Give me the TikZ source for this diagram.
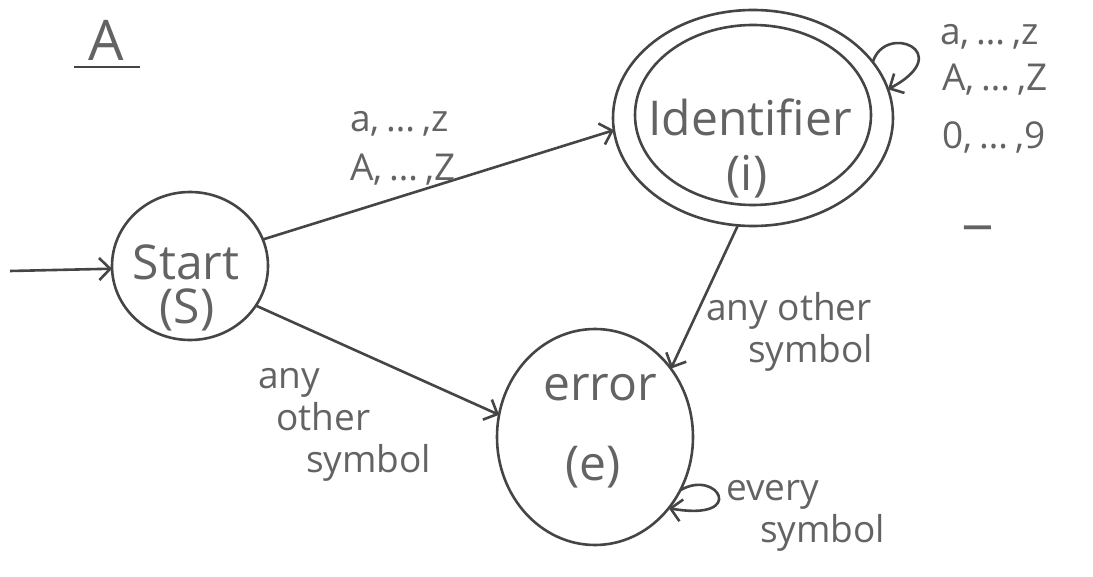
\documentclass[tikz,border=0pt]{standalone}
\usepackage{fontspec}
\setmainfont{Open Sans}
\usetikzlibrary{shapes.geometric,arrows.meta}
\definecolor{ink}{HTML}{454545}
\definecolor{pen}{HTML}{636363}
\newcommand{\ddd}{\hspace{7pt}\ldots\hspace{7pt}}
\begin{document}
\begin{tikzpicture}[x=1pt,y=-1pt,
  state/.style={ellipse,draw=ink,line width=2.6pt,inner sep=0pt,outer sep=0pt},
  txt/.style={text=pen,font=\fontsize{48}{54}\selectfont,inner sep=0pt},
  lab/.style={text=pen,font=\fontsize{37}{42}\selectfont,inner sep=0pt,align=left},
  arr/.style={draw=ink,line width=2.6pt,-{Straight Barb[length=11pt,width=22pt]}},
  plain/.style={draw=ink,line width=2.8pt}]
\useasboundingbox (0,0) rectangle (1093,577);

% title
\node[text=pen,font=\fontsize{56}{60}\selectfont,inner sep=0pt] (ttl) at (106,40) {A};
\coordinate (ulA) at (74,67);
\coordinate (ulB) at (140,67);
\draw[plain] (ulA) -- (ulB);

% states
\node[state,minimum width=156pt,minimum height=148pt] (st) at (190,266) {};
\node[state,minimum width=280pt,minimum height=216pt] (id) at (753,118) {};
\node[state,minimum width=236pt,minimum height=180pt] (idin) at (753,115) {};
\node[state,minimum width=196pt,minimum height=216pt] (er) at (595,437) {};

% state texts
\node[txt] (stT) at (186,262) {Start};
\node[txt] (stS) at (187,310) {(S)};
\node[txt] (idT) at (750,117) {Identifier};
\node[txt] (idS) at (747,177) {(i)};
\node[txt] (erT) at (600,388) {error};
\node[txt] (erS) at (593,467) {(e)};

% initial arrow
\coordinate (init) at (10,271);
\draw[arr] (init) -- (st.182);

% transitions
\draw[arr] (st.20) -- (id.185);
\draw[arr] (st.-31) -- (er.167);
\draw[arr] (id.262) -- (er.42);
\draw[arr] (id.25) .. controls (885,22) and (958,52) .. (id.12);
\draw[arr] (er.-32) .. controls (718,468) and (748,522) .. (er.-44);

% labels
\node[lab,anchor=west] (l1) at (350,124) {a,\ddd,z};
\node[lab,anchor=west] (l2) at (350,170) {A,\ddd,Z};
\node[lab,anchor=north west] (l3) at (258,368) {any\\\hspace*{18pt}other\\\hspace*{48pt}symbol};
\node[lab,anchor=north west] (l4) at (706,292) {any other\\\hspace*{42pt}symbol};
\node[lab,anchor=west] (l5) at (940,37) {a,\ddd,z};
\node[lab,anchor=west] (l6) at (942,80) {A,\ddd,Z};
\node[lab,anchor=west] (l7) at (942,137) {0,\ddd,9};
\node[text=pen,font=\fontsize{60}{60}\selectfont,inner sep=0pt,anchor=base west] (l8) at (964,221) {\_};
\node[lab,anchor=north west] (l9) at (726,480) {every\\\hspace*{34pt}symbol};
\end{tikzpicture}
\end{document}
